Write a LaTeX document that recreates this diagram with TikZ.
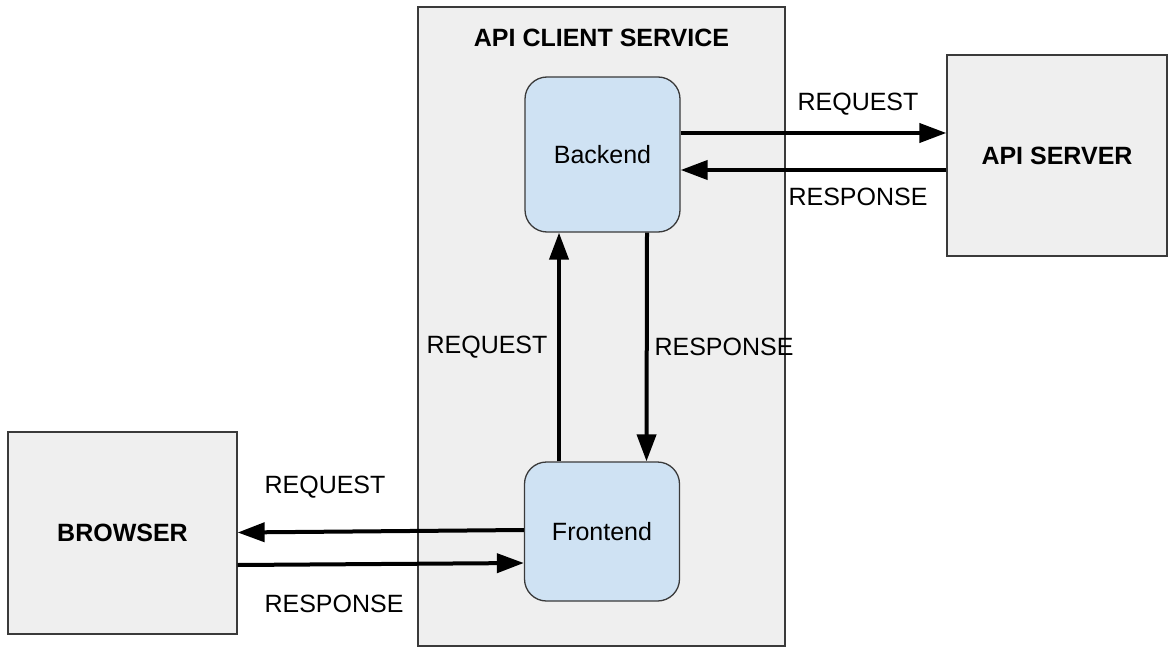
\documentclass[tikz,border=0pt]{standalone}
\usepackage{fontspec}
\setmainfont{Liberation Sans}
\usetikzlibrary{arrows.meta}
\definecolor{panel}{HTML}{EFEFEF}
\definecolor{svc}{HTML}{CFE2F3}
\definecolor{edge}{HTML}{3A3A3A}
\tikzset{
  plainbox/.style={draw=edge, line width=1.3pt, fill=panel, minimum width=#1, inner sep=0pt},
  svcbox/.style={draw=edge, line width=1.3pt, fill=svc, rounded corners=22pt,
    minimum width=155pt, inner sep=0pt},
  lbl/.style={font=\fontsize{25}{30}\selectfont, inner sep=0pt},
  ttl/.style={font=\fontsize{25}{30}\selectfont\bfseries, inner sep=0pt},
  arr/.style={line width=4pt, -{Triangle[length=27pt,width=19pt]}},
}
\begin{document}
\begin{tikzpicture}[x=1pt, y=-1pt]
\useasboundingbox (0,0) rectangle (1175,647);

% outer service container
\node[plainbox=367pt, minimum height=639pt] (client) at (601.5,326.5) {};
\node[ttl] (clientttl) at (601.5,38) {API CLIENT SERVICE};

% external parties
\node[plainbox=220pt, minimum height=201pt] (server) at (1057,155.5) {};
\node[ttl] at (server.center) {API SERVER};
\node[plainbox=229pt, minimum height=202pt] (browser) at (122.5,533) {};
\node[ttl] at (browser.center) {BROWSER};

% inner components
\node[svcbox, minimum height=155pt, lbl] (back) at (602.5,154.5) {Backend};
\node[svcbox, minimum height=139pt, lbl] (front) at (602,531.5) {Frontend};

% backend <-> api server
\draw[arr] ([yshift=21.5pt]back.east) -- ([yshift=22.5pt]server.west);
\draw[arr] ([yshift=-14.5pt]server.west) -- ([yshift=-15.5pt]back.east);
\node[lbl] (req1) at (858,104) {REQUEST};
\node[lbl] (res1) at (858,197) {RESPONSE};

% frontend <-> backend
\draw[arr] ([xshift=-43pt]front.north) -- ([xshift=-43.5pt]back.south);
\draw[arr] ([xshift=44.5pt]back.south) -- ([xshift=44.5pt]front.north);
\node[lbl] (req2) at (487,347) {REQUEST};
\node[lbl] (res2) at (724,347) {RESPONSE};

% browser <-> frontend
\draw[arr] ([yshift=1.5pt]front.west) -- ([yshift=0.5pt]browser.east);
\draw[arr] ([yshift=-32pt]browser.east) -- ([yshift=-31.5pt]front.west);
\node[lbl] (req3) at (325,487) {REQUEST};
\node[lbl] (res3) at (334,604) {RESPONSE};
\end{tikzpicture}
\end{document}
